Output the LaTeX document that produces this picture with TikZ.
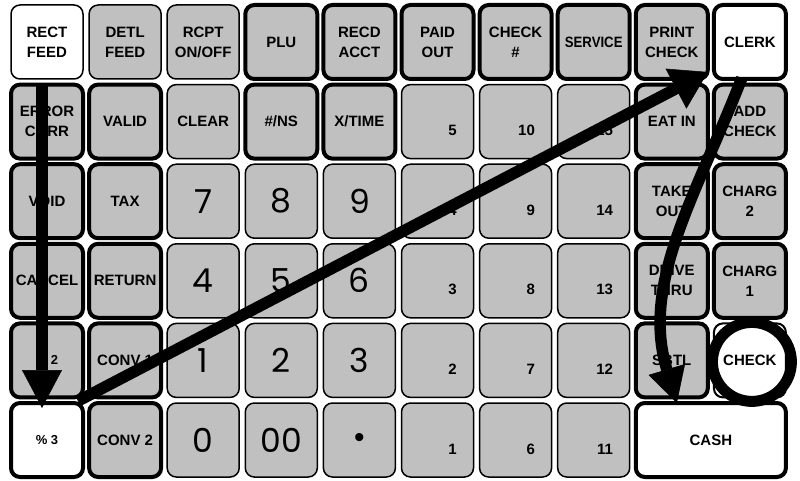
\documentclass[tikz,border=0pt]{standalone}
\usepackage{fontspec}
\usepackage{graphicx}
\setmainfont{Liberation Sans}
\newfontfamily\digitfont{Poppins}
\usetikzlibrary{arrows.meta,calc}
\definecolor{keygray}{RGB}{192,192,192}
\tikzset{
  kbkey/.style={draw=black, fill=keygray, rounded corners=9pt, minimum width=72pt, minimum height=74pt,
    inner sep=0pt, outer sep=0pt, align=center, line width=1.5pt,
    font=\bfseries\fontsize{15}{20}\selectfont},
  kbthick/.style={kbkey, line width=4pt},
  kbwhite/.style={fill=white},
  bigdigit/.style={font=\digitfont\fontsize{33}{33}\selectfont},
  smalllbl/.style={font=\bfseries\fontsize{13}{16}\selectfont},
  numlbl/.style={anchor=base east, inner sep=0pt, font=\bfseries\fontsize{15}{15}\selectfont},
  flowarrow/.style={draw=black, line width=11.5pt},
  ringmark/.style={draw=black, circle, line width=11pt, minimum size=79pt, inner sep=0pt, outer sep=0pt},
}
\begin{document}
\begin{tikzpicture}[x=1pt, y=-1pt]
\useasboundingbox (0,0) rectangle (800,481);
% row 1
\node[kbkey, kbwhite] (k1-1) at (47,42) {RECT\\FEED};
\node[kbkey] (k1-2) at (125.1,42) {DETL\\FEED};
\node[kbkey] (k1-3) at (203.2,42) {RCPT\\ON/OFF};
\node[kbthick] (k1-4) at (281.3,42) {PLU};
\node[kbthick] (k1-5) at (359.4,42) {RECD\\ACCT};
\node[kbthick] (k1-6) at (437.5,42) {PAID\\OUT};
\node[kbthick] (k1-7) at (515.6,42) {CHECK\\\#};
\node[kbthick] (k1-8) at (593.7,42) {\scalebox{0.88}[1]{SERVICE}};
\node[kbthick] (k1-9) at (671.8,42) {PRINT\\CHECK};
\node[kbthick, kbwhite] (k1-10) at (749.9,42) {CLERK};
% row 2
\node[kbthick] (k2-1) at (47,121.6) {ERROR\\CORR};
\node[kbthick] (k2-2) at (125.1,121.6) {VALID};
\node[kbkey] (k2-3) at (203.2,121.6) {CLEAR};
\node[kbthick] (k2-4) at (281.3,121.6) {\#/NS};
\node[kbthick] (k2-5) at (359.4,121.6) {X/TIME};
\node[kbkey] (k2-6) at (437.5,121.6) {};
\node[kbkey] (k2-7) at (515.6,121.6) {};
\node[kbkey] (k2-8) at (593.7,121.6) {};
\node[kbthick] (k2-9) at (671.8,121.6) {EAT IN};
\node[kbthick] (k2-10) at (749.9,121.6) {ADD\\CHECK};
% row 3
\node[kbthick] (k3-1) at (47,201.2) {VOID};
\node[kbthick] (k3-2) at (125.1,201.2) {TAX};
\node[kbkey, bigdigit] (k3-3) at (203.2,201.2) {7};
\node[kbkey, bigdigit] (k3-4) at (281.3,201.2) {8};
\node[kbkey, bigdigit] (k3-5) at (359.4,201.2) {9};
\node[kbkey] (k3-6) at (437.5,201.2) {};
\node[kbkey] (k3-7) at (515.6,201.2) {};
\node[kbkey] (k3-8) at (593.7,201.2) {};
\node[kbthick] (k3-9) at (671.8,201.2) {TAKE\\OUT};
\node[kbthick] (k3-10) at (749.9,201.2) {CHARG\\2};
% row 4
\node[kbthick] (k4-1) at (47,280.8) {CANCEL};
\node[kbthick] (k4-2) at (125.1,280.8) {RETURN};
\node[kbkey, bigdigit] (k4-3) at (203.2,280.8) {4};
\node[kbkey, bigdigit] (k4-4) at (281.3,280.8) {5};
\node[kbkey, bigdigit] (k4-5) at (359.4,280.8) {6};
\node[kbkey] (k4-6) at (437.5,280.8) {};
\node[kbkey] (k4-7) at (515.6,280.8) {};
\node[kbkey] (k4-8) at (593.7,280.8) {};
\node[kbthick] (k4-9) at (671.8,280.8) {DRIVE\\THRU};
\node[kbthick] (k4-10) at (749.9,280.8) {CHARG\\1};
% row 5
\node[kbthick, smalllbl] (k5-1) at (47,360.4) {\% 2};
\node[kbthick] (k5-2) at (125.1,360.4) {CONV 1};
\node[kbkey, bigdigit] (k5-3) at (203.2,360.4) {1};
\node[kbkey, bigdigit] (k5-4) at (281.3,360.4) {2};
\node[kbkey, bigdigit] (k5-5) at (359.4,360.4) {3};
\node[kbkey] (k5-6) at (437.5,360.4) {};
\node[kbkey] (k5-7) at (515.6,360.4) {};
\node[kbkey] (k5-8) at (593.7,360.4) {};
\node[kbthick] (k5-9) at (671.8,360.4) {SBTL};
\node[kbkey, kbwhite, line width=2pt] (k5-10) at (749.9,360.4) {CHECK};
% row 6
\node[kbthick, kbwhite, smalllbl] (k6-1) at (47,440) {\% 3};
\node[kbthick] (k6-2) at (125.1,440) {CONV 2};
\node[kbkey, bigdigit] (k6-3) at (203.2,440) {0};
\node[kbkey, bigdigit] (k6-4) at (281.3,440) {00};
\node[kbkey, font=\fontsize{30}{30}\selectfont] (k6-5) at (359.4,440) {•};
\node[kbkey] (k6-6) at (437.5,440) {};
\node[kbkey] (k6-7) at (515.6,440) {};
\node[kbkey] (k6-8) at (593.7,440) {};
\node[kbthick, kbwhite, minimum width=150.1pt] (cash) at (710.85,440) {CASH};
% numbers on blank keys
\node[numlbl] (t2-6) at ($(k2-6.center)+(19.5,14)$) {5};
\node[numlbl] (t3-6) at ($(k3-6.center)+(19.5,14)$) {4};
\node[numlbl] (t4-6) at ($(k4-6.center)+(19.5,14)$) {3};
\node[numlbl] (t5-6) at ($(k5-6.center)+(19.5,14)$) {2};
\node[numlbl] (t6-6) at ($(k6-6.center)+(19.5,14)$) {1};
\node[numlbl] (t2-7) at ($(k2-7.center)+(19.5,14)$) {10};
\node[numlbl] (t3-7) at ($(k3-7.center)+(19.5,14)$) {9};
\node[numlbl] (t4-7) at ($(k4-7.center)+(19.5,14)$) {8};
\node[numlbl] (t5-7) at ($(k5-7.center)+(19.5,14)$) {7};
\node[numlbl] (t6-7) at ($(k6-7.center)+(19.5,14)$) {6};
\node[numlbl] (t2-8) at ($(k2-8.center)+(19.5,14)$) {15};
\node[numlbl] (t3-8) at ($(k3-8.center)+(19.5,14)$) {14};
\node[numlbl] (t4-8) at ($(k4-8.center)+(19.5,14)$) {13};
\node[numlbl] (t5-8) at ($(k5-8.center)+(19.5,14)$) {12};
\node[numlbl] (t6-8) at ($(k6-8.center)+(19.5,14)$) {11};
% arrows
\draw[flowarrow, -{Triangle[length=38pt,width=40pt,line width=0.5pt]}]
  ($(k2-1.north)+(-5,0)$) -- ($(k6-1.north)+(-5,5)$);
\draw[flowarrow, -{Triangle[length=36pt,width=45pt,line width=0.5pt]}]
  ($(k6-1.north east)+(-5,-2)$) -- ($(k1-10.south west)+(-6,-7)$);
\draw[flowarrow, -{Triangle[length=35pt,width=38pt,line width=0.5pt]}]
  ($(k1-10.south)+(-8,-1)$) .. controls +(-47,120) and +(-36,-120) .. ($(cash.north)+(-34,0)$);
% ring around CHECK
\node[ringmark] (ring) at ($(k5-10.center)+(2,1.5)$) {};
\end{tikzpicture}
\end{document}
